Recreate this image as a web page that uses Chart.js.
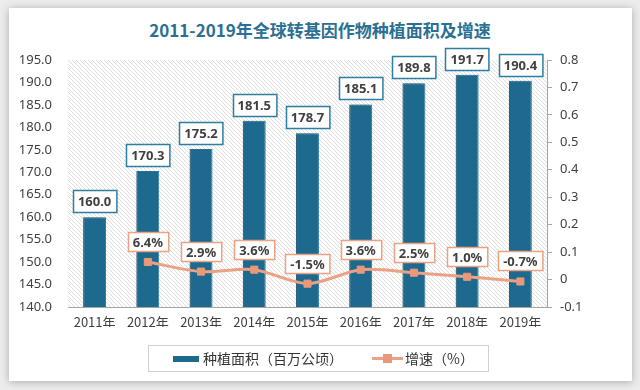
<!DOCTYPE html>
<html>
<head>
<meta charset="utf-8">
<script src="https://cdn.jsdelivr.net/npm/chart.js@4.4.0/dist/chart.umd.min.js"></script>
<style>
  html, body { margin: 0; padding: 0; }
  body { width: 640px; height: 390px; background: #ececec; position: relative; overflow: hidden;
         font-family: "Noto Sans CJK SC", "Noto Sans", sans-serif; }
  #card { position: absolute; left: 9px; top: 8px; width: 623px; height: 373px; background: #fff;
          box-shadow: 0 1px 8px rgba(0,0,0,0.28); }
  #title { position: absolute; left: 0; top: 17px; width: 640px; text-align: center;
           font-size: 17px; font-weight: bold; color: #2b6f93; }
  #chart-wrap { position: absolute; left: 0; top: 0; width: 640px; height: 390px; }
  #legend { position: absolute; left: 148px; top: 345px; width: 341px; height: 27px; border: 1px solid #d0d0d0;
            box-sizing: border-box; font-size: 14px; color: #333; }
  .lg { position: absolute; top: 3px; line-height: 19px; }
  .sw-bar { position: absolute; left: 0; top: 7px; width: 26px; height: 6px; background: #1d6a8e; }
  .sw-line { position: absolute; left: 0; top: 8px; width: 31px; height: 3px; background: #eba184; }
  .sw-pt { position: absolute; left: 11px; top: 5px; width: 9px; height: 9px; background: #e9997a; }
</style>
</head>
<body>
<div id="card"></div>
<div id="title">2011-2019年全球转基因作物种植面积及增速</div>
<div id="chart-wrap"><canvas id="c" width="640" height="390"></canvas></div>
<div id="legend">
  <div class="lg" style="left:24px;"><span class="sw-bar"></span><span style="margin-left:30px;">种植面积（百万公顷）</span></div>
  <div class="lg" style="left:223px;"><span class="sw-line"></span><span class="sw-pt"></span><span style="margin-left:33px;">增速（%）</span></div>
</div>
<script>
// data
const years = ['2011年', '2012年', '2013年', '2014年', '2015年', '2016年', '2017年', '2018年', '2019年'];
const area = [160.0, 170.3, 175.2, 181.5, 178.7, 185.1, 189.8, 191.7, 190.4];
const growth = [null, 0.064, 0.029, 0.036, -0.015, 0.036, 0.025, 0.010, -0.007];
const growthText = ['', '6.4%', '2.9%', '3.6%', '-1.5%', '3.6%', '2.5%', '1.0%', '-0.7%'];
const leftTicks = [140, 145, 150, 155, 160, 165, 170, 175, 180, 185, 190, 195];
const rightTicks = [-0.1, 0, 0.1, 0.2, 0.3, 0.4, 0.5, 0.6, 0.7, 0.8];

const barColor = '#1d6a8e';
const lineColor = '#eba184';
const pointColor = '#e9997a';
const labelFont = 'bold 13px "Noto Sans", "DejaVu Sans", sans-serif';

// hatched background of the plot area
function makeHatch() {
    const p = document.createElement('canvas');
    p.width = 4; p.height = 4;
    const g = p.getContext('2d');
    g.fillStyle = '#ffffff';
    g.fillRect(0, 0, 4, 4);
    g.strokeStyle = '#dedede';
    g.lineWidth = 1;
    g.beginPath();
    g.moveTo(-1, -1); g.lineTo(5, 5);
    g.moveTo(-1, 3); g.lineTo(1, 5);
    g.moveTo(3, -1); g.lineTo(5, 1);
    g.stroke();
    return p;
}

const hatchPlugin = {
    id: 'hatch',
    beforeDatasetsDraw(chart) {
        const a = chart.chartArea;
        const ctx = chart.ctx;
        ctx.save();
        ctx.fillStyle = ctx.createPattern(makeHatch(), 'repeat');
        ctx.fillRect(a.left, a.top, a.right - a.left, a.bottom - a.top);
        ctx.restore();
    }
};

const shadowPlugin = {
    id: 'barShadow',
    beforeDatasetDraw(chart, args) {
        if (args.index !== 1) return;
        const ctx = chart.ctx;
        ctx.save();
        ctx.shadowColor = 'rgba(0,0,0,0.35)';
        ctx.shadowBlur = 3;
        ctx.shadowOffsetX = -2;
        ctx.shadowOffsetY = 0;
    },
    afterDatasetDraw(chart, args) {
        if (args.index !== 1) return;
        chart.ctx.restore();
    }
};

function drawBox(ctx, text, cx, bottom, h, border) {
    ctx.font = labelFont;
    const w = ctx.measureText(text).width + 10;
    const x = Math.round(cx - w / 2) + 0.5;
    const y = Math.round(bottom - h) + 0.5;
    ctx.fillStyle = '#ffffff';
    ctx.fillRect(x, y, w, h);
    ctx.strokeStyle = border;
    ctx.lineWidth = 1.5;
    ctx.strokeRect(x, y, w, h);
    ctx.fillStyle = '#404040';
    ctx.textAlign = 'center';
    ctx.textBaseline = 'middle';
    ctx.fillText(text, cx, y + h / 2 + 1);
}

const labelPlugin = {
    id: 'boxLabels',
    afterDatasetsDraw(chart) {
        const ctx = chart.ctx;
        ctx.save();
        const barMeta = chart.getDatasetMeta(1);
        barMeta.data.forEach((el, i) => {
            drawBox(ctx, area[i].toFixed(1), el.x, el.y - 5, 22, '#2e7ea3');
        });
        const lineMeta = chart.getDatasetMeta(0);
        lineMeta.data.forEach((el, i) => {
            if (growth[i] === null) return;
            drawBox(ctx, growthText[i], el.x, el.y - 11, 19, '#eba184');
        });
        ctx.restore();
    }
};

const ctx = document.getElementById('c');
new Chart(ctx, {
    data: {
        labels: years,
        datasets: [
            {
                type: 'line',
                label: '增速（%）',
                data: growth,
                yAxisID: 'y1',
                borderColor: lineColor,
                borderWidth: 3,
                pointStyle: 'rect',
                pointRadius: 5,
                pointBackgroundColor: pointColor,
                pointBorderColor: pointColor,
                pointBorderWidth: 1,
                tension: 0.3,
                spanGaps: false,
                order: 0
            },
            {
                type: 'bar',
                label: '种植面积（百万公顷）',
                data: area,
                yAxisID: 'y',
                backgroundColor: barColor,
                borderColor: '#2d7aa0',
                borderWidth: 1,
                categoryPercentage: 1,
                barPercentage: 0.43,
                order: 1
            }
        ]
    },
    options: {
        responsive: false,
        animation: false,
        layout: { padding: { top: 60, left: 0, right: 0, bottom: 63 } },
        plugins: {
            legend: { display: false },
            tooltip: { enabled: false }
        },
        scales: {
            x: {
                grid: { display: false, drawTicks: false },
                border: { display: true, color: '#a6a6a6', width: 1 },
                ticks: {
                    color: '#404040',
                    font: { size: 13, family: '"Noto Sans CJK SC", sans-serif' },
                    padding: 7,
                    maxRotation: 0
                },
                afterFit(s) { s.height = 20; }
            },
            y: {
                position: 'left',
                min: 140,
                max: 195,
                afterBuildTicks(s) { s.ticks = leftTicks.map(v => ({ value: v })); },
                grid: { display: false, drawTicks: false },
                border: { display: false },
                ticks: {
                    color: '#404040',
                    font: { size: 13, family: '"Noto Sans", sans-serif' },
                    padding: 16,
                    callback: v => v.toFixed(1)
                },
                afterFit(s) { s.width = 68; }
            },
            y1: {
                position: 'right',
                min: -0.1,
                max: 0.8,
                afterBuildTicks(s) { s.ticks = rightTicks.map(v => ({ value: v })); },
                grid: { drawOnChartArea: false, drawTicks: true, tickLength: 5, color: '#a6a6a6' },
                border: { display: true, color: '#a6a6a6' },
                ticks: {
                    color: '#404040',
                    font: { size: 13, family: '"Noto Sans", sans-serif' },
                    padding: 8,
                    callback: v => String(Math.round(v * 10) / 10)
                },
                afterFit(s) { s.width = 93; }
            }
        }
    },
    plugins: [hatchPlugin, shadowPlugin, labelPlugin]
});
</script>
</body>
</html>
